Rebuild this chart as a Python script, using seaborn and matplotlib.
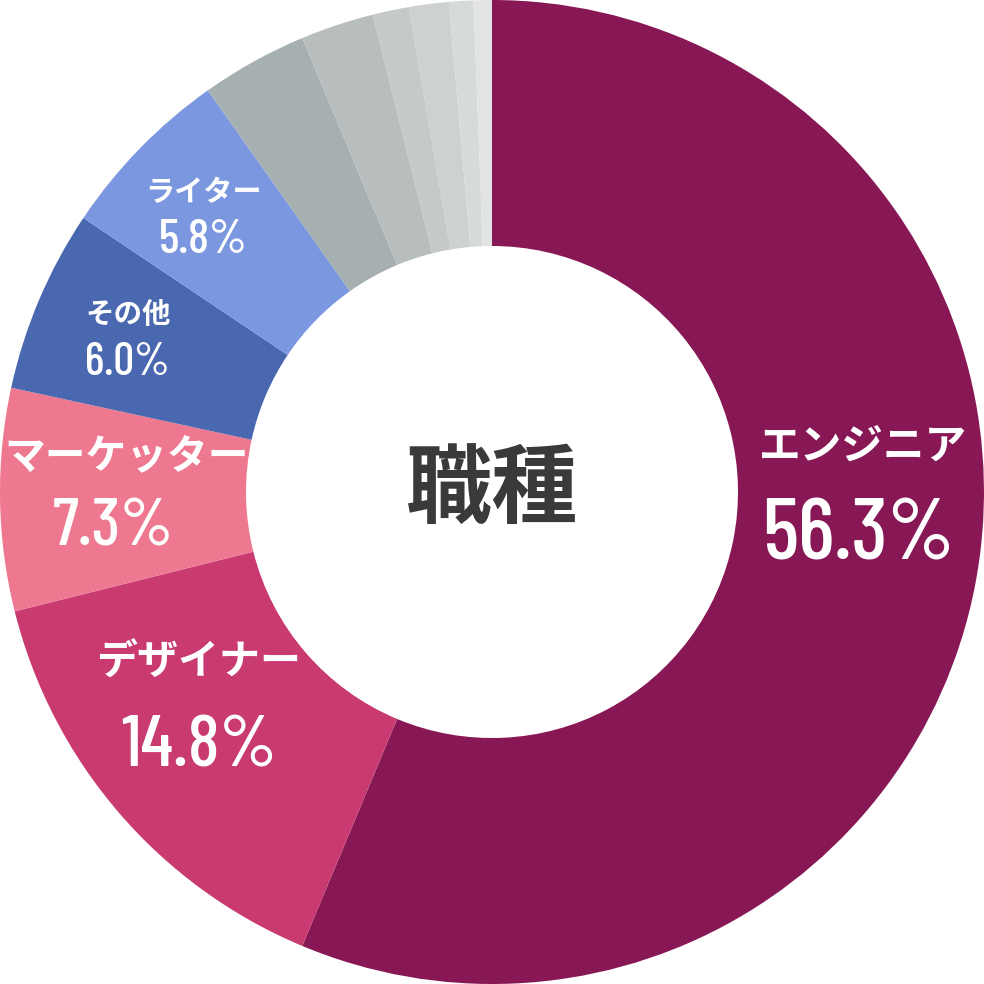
import matplotlib
matplotlib.use("Agg")
import matplotlib.pyplot as plt
import seaborn as sns

sns.set_theme(style="white")
plt.rcParams['font.family'] = ['Noto Sans CJK JP', 'DejaVu Sans']

# ---- data ----
categories = ["エンジニア", "デザイナー", "マーケッター", "その他", "ライター",
              "g1", "g2", "g3", "g4", "g5", "g6"]
values = [56.3, 14.8, 7.3, 6.0, 5.8, 3.5, 2.4, 1.2, 1.3, 0.8, 0.6]
colors = ["#881855", "#C83A70", "#EE788F", "#4A68B0", "#7B97E0",
          "#A6B0B0", "#B8BEBE", "#C5C9CA", "#CDD1D2", "#D7DADA", "#E2E4E4"]
center_title = "職種"

# label layout: (index, name x, name y, pct x, pct baseline y, name size, pct size)
label_layout = [
    (0, 0.754, 0.093, 0.744, -0.138, 30, 62),
    (1, -0.596, -0.346, -0.596, -0.557, 29.5, 53),
    (2, -0.742, 0.069, -0.769, -0.108, 29.3, 49),
    (3, -0.740, 0.360, -0.741, 0.238, 20.5, 33),
    (4, -0.587, 0.610, -0.587, 0.486, 21, 35),
]

fig = plt.figure(figsize=(9.84, 9.84), dpi=100)
ax = fig.add_axes([0, 0, 1, 1])
ax.pie(values, colors=colors, startangle=90, counterclock=False,
       radius=1.0, wedgeprops=dict(width=0.5, linewidth=0))
ax.set_xlim(-1, 1)
ax.set_ylim(-1, 1)
ax.set_aspect('equal')
ax.axis('off')

for idx, xn, yn, xp, yp, sn, sp in label_layout:
    ax.text(xn, yn, categories[idx], ha='center', va='center', color='white',
            fontsize=sn, fontweight='bold')
    ax.text(xp, yp, f"{values[idx]:.1f}%", ha='center', va='baseline', color='white',
            fontsize=sp, fontweight=500,
            family=['Barlow Condensed', 'Roboto Condensed', 'DejaVu Sans'])

ax.text(0, 0.0, center_title, ha='center', va='center', color='#3A3A3A',
        fontsize=62, fontweight='bold')

fig.savefig("out.png", dpi=100, facecolor='white')
